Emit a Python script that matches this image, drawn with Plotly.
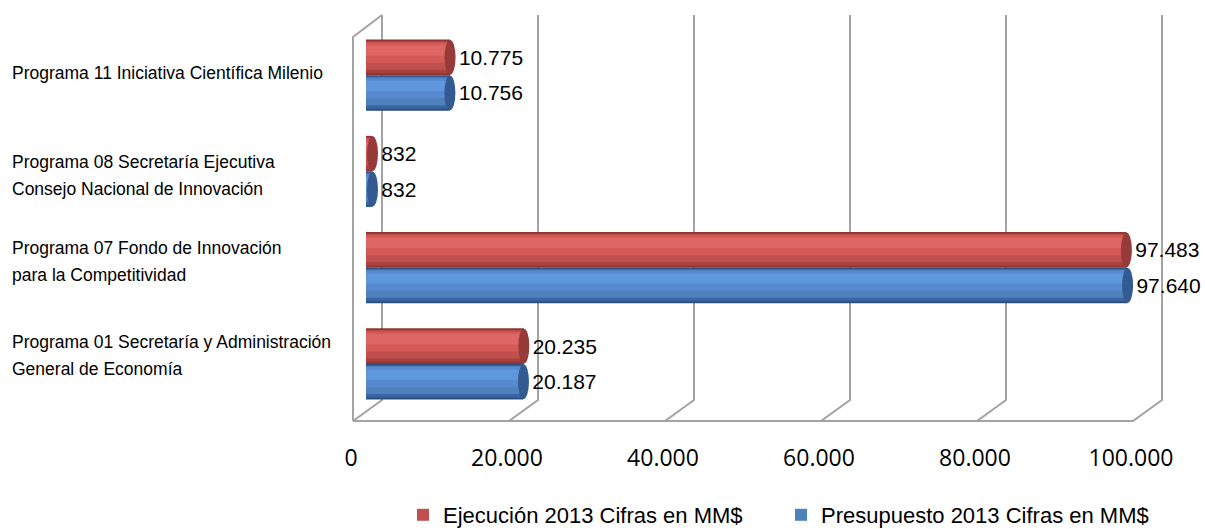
import plotly.graph_objects as go

# ---------------- data ----------------
categories = [
    "Programa 01 Secretaría y Administración<br>General de Economía",
    "Programa 07 Fondo de Innovación<br>para la Competitividad",
    "Programa 08 Secretaría Ejecutiva<br>Consejo Nacional de Innovación",
    "Programa 11 Iniciativa Científica Milenio",
]
ejecucion = [20235, 97483, 832, 10775]
presupuesto = [20187, 97640, 832, 10756]
tick_values = [0, 20000, 40000, 60000, 80000, 100000]
series_names = ["Ejecución 2013 Cifras en MM$", "Presupuesto 2013 Cifras en MM$"]

# ---------------- style ----------------
NARROW = "Liberation Sans, Arial, sans-serif"
AXISFONT = "Open Sans, Carlito, Calibri, sans-serif"
T = 0.369  # bar thickness in category units
XMAX = 100000
LABEL_NUDGE = [8, 6, -4, 2]  # small vertical offsets of the category texts (px)

# (top_frac, bottom_frac, colour) measured from the top of each cylinder
red_layers = [
    (0.00, 1.00, "#8E3433"),
    (0.04, 0.95, "#A8403E"),
    (0.06, 0.85, "#C0504D"),
    (0.09, 0.65, "#D45A58"),
    (0.16, 0.45, "#DE6664"),
]
blue_layers = [
    (0.00, 1.00, "#2D4F80"),
    (0.04, 0.95, "#3A66A5"),
    (0.06, 0.85, "#4F81BD"),
    (0.09, 0.65, "#5689D0"),
    (0.16, 0.45, "#6096DC"),
]

fig = go.Figure()


def add_series(values, name, layers, upper):
    for i, (tf, bf, col) in enumerate(layers):
        if upper:
            off = T * (1 - bf)
        else:
            off = -T * bf
        kw = {}
        if i == 0:
            kw = dict(
                texttemplate="\u00a0%{x:,.0f}",
                textposition="outside",
                cliponaxis=False,
                constraintext="none",
                textfont=dict(family=NARROW, size=21, color="#000000"),
            )
        fig.add_trace(go.Bar(
            y=categories, x=values, orientation="h",
            name=name, legendgroup=name,
            showlegend=(i == 2),
            marker=dict(color=col, line=dict(width=0)),
            offset=off, width=T * (bf - tf),
            hoverinfo="skip",
            **kw,
        ))


add_series(ejecucion, series_names[0], red_layers, True)
add_series(presupuesto, series_names[1], blue_layers, False)

shapes = []
GRID = dict(color="#A3A3A3", width=2)
# 3D box: back wall gridlines, floor diagonals, left wall and floor front edge
for k, v in enumerate(tick_values):
    path = "M16,397 L16,12 L-13,-9"
    if k > 0:
        path += " L-169,-9"
    shapes.append(dict(type="path", xref="paper", yref="paper", xsizemode="pixel",
                       ysizemode="pixel", xanchor=v / XMAX, yanchor=0, path=path,
                       line=GRID, layer="below"))
    if k == 0:
        shapes.append(dict(type="path", xref="paper", yref="paper", xsizemode="pixel",
                           ysizemode="pixel", xanchor=v / XMAX, yanchor=0,
                           path="M16,397 L-13,375 L-13,-9",
                           line=GRID, layer="below"))

# rounded left ends and end caps of the cylinders
for idx, (ve, vp) in enumerate(zip(ejecucion, presupuesto)):
    for val, y0, y1, body, cap in [
        (ve, idx, idx + T, "#B84846", "#963B3A"),
        (vp, idx - T, idx, "#4676B5", "#335B91"),
    ]:
        shapes.append(dict(type="circle", xref="x", yref="y", xsizemode="pixel",
                           xanchor=0, x0=-5.5, x1=5.5, y0=y0 + 0.004, y1=y1 - 0.004,
                           fillcolor=body, line=dict(width=0), layer="below"))
        shapes.append(dict(type="circle", xref="x", yref="y", xsizemode="pixel",
                           xanchor=val, x0=-5.5, x1=5.5, y0=y0 + 0.004, y1=y1 - 0.004,
                           fillcolor=cap, line=dict(width=0), layer="above"))

# category labels, left aligned
annotations = []
LABEL_X = (10 - 366) / 780
for idx, cat in enumerate(categories):
    lines = cat.split("<br>")
    n = len(lines)
    for j, line in enumerate(lines):
        annotations.append(dict(
            text=line, xref="paper", yref="y", x=LABEL_X, y=idx,
            xanchor="left", yanchor="middle", showarrow=False,
            yshift=(n - 1) * 13.5 - j * 27 + LABEL_NUDGE[idx],
            font=dict(family=NARROW, size=17.5, color="#000000"),
        ))

fig.update_layout(
    width=1205, height=529,
    margin=dict(l=366, r=59, t=27, b=117, pad=0, autoexpand=False),
    paper_bgcolor="white", plot_bgcolor="white",
    barmode="overlay",
    separators=",.",
    shapes=shapes,
    annotations=annotations,
    showlegend=True,
    legend=dict(
        orientation="h", x=(403 - 366) / 780, xanchor="left",
        y=-0.2675, yanchor="middle",
        font=dict(family=NARROW, size=22, color="#000000"),
        traceorder="normal", bgcolor="rgba(0,0,0,0)",
        entrywidth=333, entrywidthmode="pixels",
    ),
    xaxis=dict(
        range=[0, XMAX], tickvals=tick_values, tickformat=",d",
        showgrid=False, zeroline=False, showline=False, ticks="",
        tickfont=dict(family=AXISFONT, size=23, color="#000000"),
        ticklabelshift=-15, ticklabelstandoff=30,
        fixedrange=True,
    ),
    yaxis=dict(
        range=[-0.5, 3.5], showticklabels=False, showgrid=False,
        zeroline=False, showline=False, ticks="", fixedrange=True,
    ),
)

fig.write_html(
    "out.html",
    config={"displayModeBar": False},
    post_script="document.body.style.margin='0';document.body.style.overflow='hidden';",
)
